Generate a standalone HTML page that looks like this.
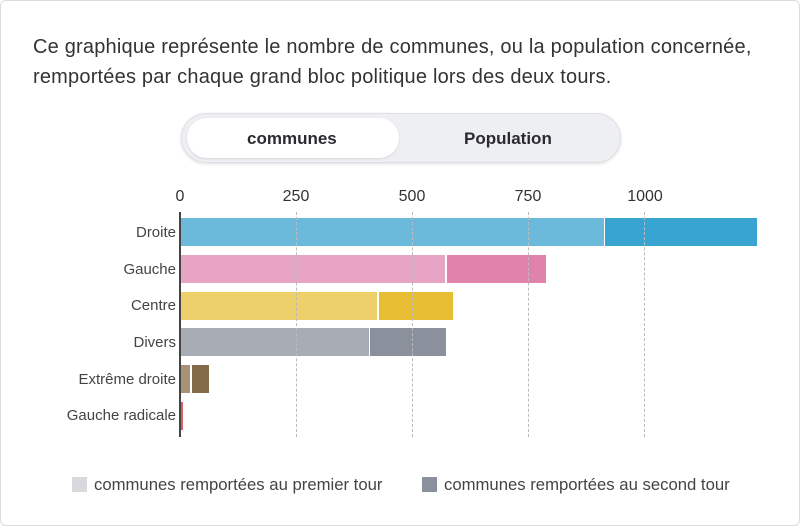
<!DOCTYPE html>
<html><head><meta charset="utf-8"><style>
html,body{margin:0;padding:0;background:#fff;}
body{width:800px;height:526px;position:relative;overflow:hidden;font-family:"Liberation Sans",sans-serif;}
.card{position:absolute;left:0;top:0;width:798px;height:524px;border:1px solid #dcdcdc;border-radius:6px;}
.title{position:absolute;left:33px;top:32px;font-size:20px;letter-spacing:0.2px;line-height:30px;color:#333;white-space:nowrap;}
.tog{position:absolute;left:181px;top:113px;width:438px;height:48px;border-radius:25px;background:#eeeff3;border:1px solid #e0e0e4;box-shadow:0 1px 3px rgba(0,0,0,.12);}
.tog .on{position:absolute;left:5px;top:4px;width:212px;height:40px;border-radius:20px;background:#fff;box-shadow:0 1px 2px rgba(0,0,0,.1);}
.tog span{position:absolute;top:15px;font-size:17px;font-weight:bold;color:#2a2a30;}
.lab{position:absolute;right:624px;font-size:15px;color:#444;text-align:right;white-space:nowrap;}
.tick{position:absolute;top:188px;font-size:16px;color:#333;transform:translateX(-50%);}
.grid{position:absolute;top:212px;height:225px;border-left:1px dashed #bbb;}
.bar{position:absolute;height:28px;}
.leg{position:absolute;top:475px;font-size:16.7px;color:#444;white-space:nowrap;}
.sw{position:absolute;top:477px;width:15px;height:15px;}
</style></head><body>
<div class="card"></div>
<div class="title">Ce graphique représente le nombre de communes, ou la population concernée,<br>remportées par chaque grand bloc politique lors des deux tours.</div>
<div class="tog"><div class="on"></div><span style="left:65px">communes</span><span style="left:282px">Population</span></div>
<div class="tick" style="left:180px">0</div>
<div class="tick" style="left:296px">250</div>
<div class="tick" style="left:412px">500</div>
<div class="tick" style="left:528px">750</div>
<div class="tick" style="left:645px">1000</div>
<div class="bar" style="left:179px;top:218px;width:425px;background:#6bbadb"></div>
<div class="bar" style="left:605px;top:218px;width:152px;background:#38a4d2"></div>
<div class="bar" style="left:179px;top:255px;width:266px;background:#e8a4c4"></div>
<div class="bar" style="left:447px;top:255px;width:99px;background:#df83ad"></div>
<div class="bar" style="left:179px;top:292px;width:198px;background:#edd06a"></div>
<div class="bar" style="left:379px;top:292px;width:74px;background:#e6bd33"></div>
<div class="bar" style="left:179px;top:328px;width:190px;background:#a8acb5"></div>
<div class="bar" style="left:370px;top:328px;width:76px;background:#8a909c"></div>
<div class="bar" style="left:179px;top:365px;width:11px;background:#a89277"></div>
<div class="bar" style="left:192px;top:365px;width:17px;background:#836a48"></div>
<div class="bar" style="left:180px;top:402px;width:3px;background:#e06060"></div>
<div class="grid" style="left:296px"></div>
<div class="grid" style="left:412px"></div>
<div class="grid" style="left:528px"></div>
<div class="grid" style="left:644px"></div>
<div style="position:absolute;left:179px;top:212px;width:1.5px;height:225px;background:#444"></div>
<div class="lab" style="top:224px">Droite</div>
<div class="lab" style="top:261px">Gauche</div>
<div class="lab" style="top:297px">Centre</div>
<div class="lab" style="top:334px">Divers</div>
<div class="lab" style="top:371px">Extrême droite</div>
<div class="lab" style="top:407px">Gauche radicale</div>
<div class="sw" style="left:72px;background:#d8d9dc"></div>
<div class="leg" style="left:94px">communes remportées au premier tour</div>
<div class="sw" style="left:422px;background:#8a909c"></div>
<div class="leg" style="left:444px">communes remportées au second tour</div>
</body></html>
